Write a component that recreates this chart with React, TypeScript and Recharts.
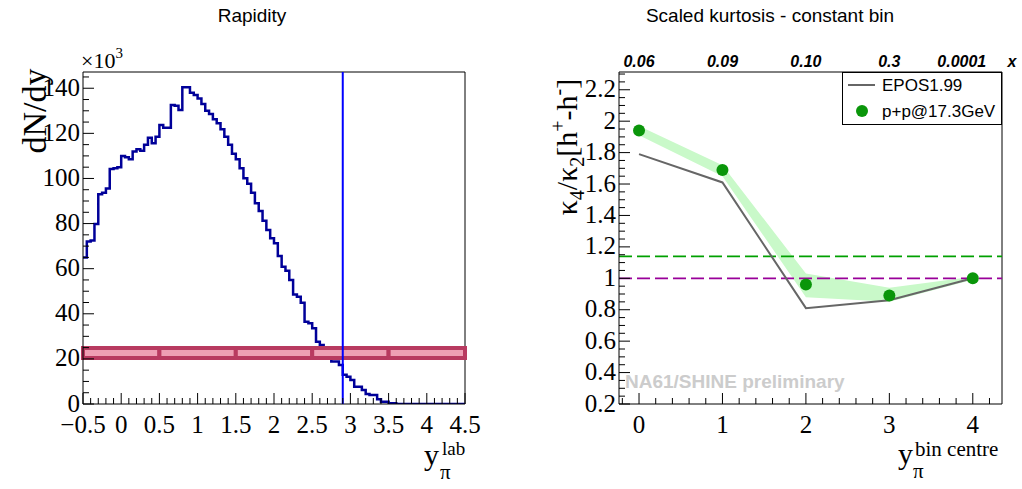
import React from 'react';
import {
  LineChart,
  Line,
  ComposedChart,
  Area,
  XAxis,
  YAxis,
  ReferenceLine,
  ReferenceArea,
} from 'recharts';

// left panel: rapidity histogram, dN/dy in units of 10^3, bins of 0.05 from -0.5
const binStart = -0.5;
const binWidth = 0.05;
const dNdy = [
  65, 72, 72.5, 79.8, 93, 93.7, 95.6, 104.2, 104.5, 105,
  110, 109.4, 108.5, 111.9, 112.9, 112.3, 114.9, 118, 115.6, 118.5,
  123.7, 122.5, 122.5, 132.6, 132.2, 130.4, 140.4, 140.4, 138, 137,
  135.5, 133, 130, 128.6, 126.3, 124.5, 121.8, 118.5, 114.9, 110.9,
  108.5, 104.5, 100.1, 97.6, 93.7, 89, 85.6, 81.3, 77.2, 73.5,
  71.3, 65.6, 60.9, 59.1, 55, 48.6, 47.6, 44.9, 36.5, 35.8,
  33.6, 27.6, 26.2, 24, 21, 18.8, 18.8, 17.3, 13, 12.1,
  10.6, 7.7, 7.7, 6.2, 4.4, 4, 4, 2.1, 1, 1,
  0.3, 0.3, 0, 0, 0, 0, 0, 0, 0, 0,
  0, 0, 0, 0, 0, 0, 0, 0, 0, 0,
];
const boxCentres = [0, 1, 2, 3, 4];
const boxLow = 20.4;
const boxHigh = 24.8;
const cutRapidity = 2.9;
const rapXMajor = [-0.5, 0, 0.5, 1, 1.5, 2, 2.5, 3, 3.5, 4, 4.5];
const rapYMajor = [0, 20, 40, 60, 80, 100, 120, 140];

// right panel: scaled kurtosis per rapidity bin
const binCentre = [0, 1, 2, 3, 4];
const topLabels = ['0.06', '0.09', '0.10', '0.3', '0.0001'];
const ppValues = [1.94, 1.69, 0.96, 0.89, 1.0];
const ppBandLow = [1.91, 1.65, 0.88, 0.85, 0.99];
const ppBandHigh = [1.97, 1.72, 1.03, 0.94, 1.01];
const eposValues = [1.79, 1.61, 0.81, 0.86, 1.0];
const kurtXMajor = [0, 1, 2, 3, 4];
const kurtYMajor = [0.2, 0.4, 0.6, 0.8, 1, 1.2, 1.4, 1.6, 1.8, 2, 2.2];
const poissonLevel = 1;
const upperLevel = 1.14;

const SERIF = 'Liberation Serif, Times New Roman, serif';
const SANS = 'Liberation Sans, Arial, sans-serif';
const TICK_FONT = 25;

const steps = (a: number, b: number, s: number) => {
  const out: number[] = [];
  for (let i = 0; a + i * s <= b + 1e-9; i++) out.push(+(a + i * s).toFixed(3));
  return out;
};
const isMajor = (majors: number[], v: number) => majors.some((m) => Math.abs(m - v) < 1e-6);
const fmt = (v: number) => (v < 0 ? '\u2212' + Math.abs(v) : String(v));

const histData = dNdy
  .map((v, i) => ({ x: +(binStart + i * binWidth).toFixed(3), v }))
  .concat([{ x: 4.5, v: dNdy[dNdy.length - 1] }]);

const kurtData = binCentre.map((x, i) => ({
  x,
  pp: ppValues[i],
  band: [ppBandLow[i], ppBandHigh[i]],
  epos: eposValues[i],
}));

// bottom axis tick: inward tick line, serif label, and optional label above the frame
const bottomTick = (majors: number[], withTop = false) => (props: any) => {
  const { x, y, payload } = props;
  const v = payload.value;
  const major = isMajor(majors, v);
  const ti = withTop ? binCentre.indexOf(v) : -1;
  return (
    <g>
      <line x1={x} x2={x} y1={y} y2={y - (major ? 11 : 6)} stroke="#000" />
      {major && (
        <text x={x} y={y + 29} textAnchor="middle" fontFamily={SERIF} fontSize={TICK_FONT} fill="#000">
          {fmt(v)}
        </text>
      )}
      {ti >= 0 && (
        <text
          x={x - (ti === topLabels.length - 1 ? 11 : 0)}
          y={67}
          textAnchor="middle"
          fontFamily={SANS}
          fontSize={16}
          fontWeight="bold"
          fontStyle="italic"
          fill="#000"
        >
          {topLabels[ti]}
        </text>
      )}
    </g>
  );
};

const leftTick = (majors: number[]) => (props: any) => {
  const { x, y, payload } = props;
  const major = isMajor(majors, payload.value);
  return (
    <g>
      <line x1={x} x2={x + (major ? 11 : 6)} y1={y} y2={y} stroke="#000" />
      {major && (
        <text x={x - 3} y={y + 7.5} textAnchor="end" fontFamily={SERIF} fontSize={TICK_FONT} fill="#000">
          {fmt(payload.value)}
        </text>
      )}
    </g>
  );
};

function RapidityPanel() {
  const yTop = 147.2;
  return (
    <LineChart
      width={511}
      height={489}
      data={histData}
      margin={{ top: 72, right: 46, bottom: 84, left: 82 }}
    >
      <XAxis
        dataKey="x"
        type="number"
        domain={[-0.5, 4.5]}
        allowDataOverflow
        ticks={steps(-0.5, 4.5, 0.1)}
        interval={0}
        height={1}
        tickSize={0}
        tickMargin={0}
        tickLine={false}
        tick={bottomTick(rapXMajor)}
        axisLine={{ stroke: '#000' }}
      />
      <YAxis
        type="number"
        domain={[0, yTop]}
        allowDataOverflow
        ticks={steps(0, 145, 5)}
        interval={0}
        width={1}
        tickSize={0}
        tickMargin={0}
        tickLine={false}
        tick={leftTick(rapYMajor)}
        axisLine={{ stroke: '#000' }}
      />
      <ReferenceLine y={yTop} stroke="#000" />
      <ReferenceLine x={4.5} stroke="#000" />
      <Line
        dataKey="v"
        type="stepAfter"
        stroke="#000099"
        strokeWidth={2.5}
        dot={false}
        isAnimationActive={false}
      />
      {boxCentres.map((c) => (
        <ReferenceArea
          key={c}
          x1={c - 0.5}
          x2={c + 0.5}
          y1={boxLow}
          y2={boxHigh}
          fill="#ee9fb4"
          fillOpacity={1}
          stroke="#b83a60"
          strokeWidth={4}
          zIndex={450}
        />
      ))}
      <ReferenceLine x={cutRapidity} stroke="#0000ff" strokeWidth={2} zIndex={500} />
    </LineChart>
  );
}

function KurtosisPanel() {
  const xMin = -0.24;
  const xMax = 4.35;
  const yTop = 2.313;
  return (
    <ComposedChart
      width={511}
      height={489}
      data={kurtData}
      margin={{ top: 72, right: 20, bottom: 84, left: 107 }}
    >
      <XAxis
        dataKey="x"
        type="number"
        domain={[xMin, xMax]}
        allowDataOverflow
        ticks={steps(-0.2, 4.2, 0.2)}
        interval={0}
        height={1}
        tickSize={0}
        tickMargin={0}
        tickLine={false}
        tick={bottomTick(kurtXMajor, true)}
        axisLine={{ stroke: '#000' }}
      />
      <YAxis
        type="number"
        domain={[0.2, yTop]}
        allowDataOverflow
        ticks={steps(0.2, 2.3, 0.05)}
        interval={0}
        width={1}
        tickSize={0}
        tickMargin={0}
        tickLine={false}
        tick={leftTick(kurtYMajor)}
        axisLine={{ stroke: '#000' }}
      />
      <ReferenceLine y={yTop} stroke="#000" />
      <ReferenceLine x={xMax} stroke="#000" />
      <Area
        dataKey="band"
        type="linear"
        fill="#c9f9c9"
        fillOpacity={1}
        stroke="none"
        isAnimationActive={false}
      />
      <ReferenceLine y={upperLevel} stroke="#00a000" strokeWidth={1.7} strokeDasharray="13 5" />
      <ReferenceLine y={poissonLevel} stroke="#990099" strokeWidth={1.7} strokeDasharray="13 5" />
      <Line
        dataKey="epos"
        type="linear"
        stroke="#666666"
        strokeWidth={2}
        dot={false}
        isAnimationActive={false}
      />
      <Line
        dataKey="pp"
        type="linear"
        stroke="none"
        dot={{ r: 6, fill: '#0a960a', stroke: 'none' }}
        isAnimationActive={false}
      />
    </ComposedChart>
  );
}

export default function App() {
  return (
    <div style={{ position: 'absolute', left: 0, top: 0, width: 1022, height: 489, background: '#fff' }}>
      <div style={{ position: 'absolute', left: 0, top: 0 }}>
        <RapidityPanel />
      </div>
      <div style={{ position: 'absolute', left: 511, top: 0 }}>
        <KurtosisPanel />
      </div>
      <svg
        width={1022}
        height={489}
        style={{ position: 'absolute', left: 0, top: 0, pointerEvents: 'none' }}
      >
        <text x={252} y={22} textAnchor="middle" fontFamily={SANS} fontSize={19}>
          Rapidity
        </text>
        <text x={770} y={22} textAnchor="middle" fontFamily={SANS} fontSize={19}>
          Scaled kurtosis - constant bin
        </text>

        <text x={81} y={68} fontFamily={SERIF} fontSize={22}>
          ×10<tspan fontSize={15} dy={-10}>3</tspan>
        </text>
        <text transform="translate(46,111) rotate(-90)" textAnchor="middle" fontFamily={SERIF} fontSize={34}>
          dN/dy
        </text>
        <text x={424} y={465} fontFamily={SERIF} fontSize={30}>y</text>
        <text x={442} y={455} fontFamily={SERIF} fontSize={19}>lab</text>
        <text x={440} y={479} fontFamily={SERIF} fontSize={21}>π</text>

        <text transform="translate(577,147) rotate(-90)" textAnchor="middle" fontFamily={SERIF} fontSize={30}>
          κ<tspan fontSize={20} dy={7}>4</tspan>
          <tspan fontSize={30} dy={-7}>/κ</tspan>
          <tspan fontSize={20} dy={7}>2</tspan>
          <tspan fontSize={30} dy={-7}>[h</tspan>
          <tspan fontSize={20} dy={-12}>+</tspan>
          <tspan fontSize={30} dy={12}>-h</tspan>
          <tspan fontSize={20} dy={-12}>-</tspan>
          <tspan fontSize={30} dy={12}>]</tspan>
        </text>
        <text x={898} y={464} fontFamily={SERIF} fontSize={30}>y</text>
        <text x={915} y={456} fontFamily={SERIF} fontSize={21}>bin centre</text>
        <text x={913} y={478} fontFamily={SERIF} fontSize={21}>π</text>
        <text x={1012} y={67} textAnchor="middle" fontFamily={SANS} fontSize={16} fontWeight="bold" fontStyle="italic">
          x
        </text>

        <text x={625} y={388} fontFamily={SANS} fontSize={19} fontWeight="bold" fill="#cccccc">
          NA61/SHINE preliminary
        </text>

        <rect x={842.5} y={72.5} width={159} height={52} fill="#fff" stroke="#000" />
        <line x1={848} x2={875} y1={85} y2={85} stroke="#666666" strokeWidth={2} />
        <text x={882} y={91} fontFamily={SANS} fontSize={17}>EPOS1.99</text>
        <circle cx={862} cy={111} r={6} fill="#0a960a" />
        <text x={882} y={117} fontFamily={SANS} fontSize={17}>p+p@17.3GeV</text>
      </svg>
    </div>
  );
}
